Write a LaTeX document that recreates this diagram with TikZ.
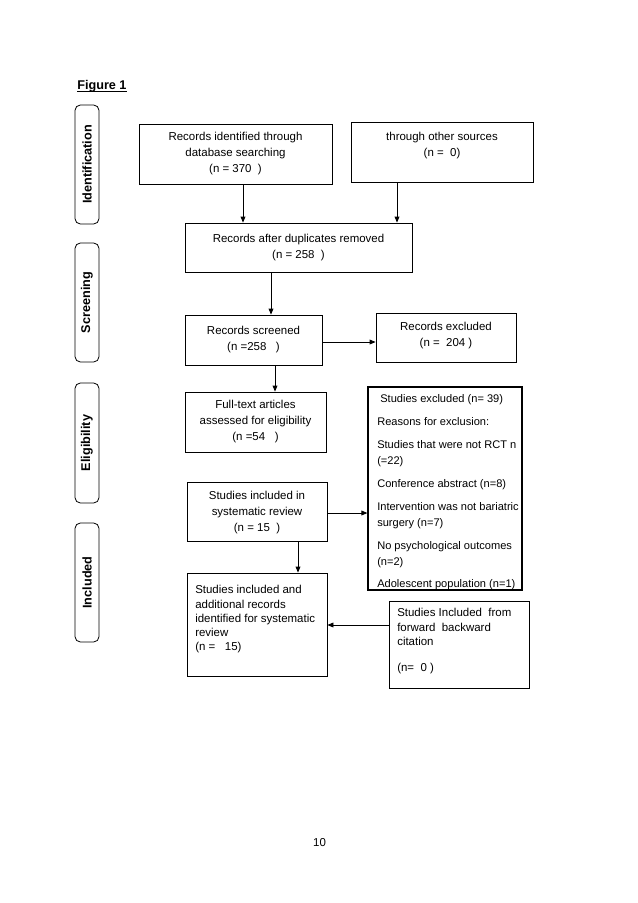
\documentclass[tikz,border=0pt]{standalone}
\usepackage{fontspec}
\setmainfont{Liberation Sans}
\usetikzlibrary{arrows.meta,fit}
\newcommand\bodyfont{\fontsize{8.6}{12}\selectfont}
\newcommand\smallbodyfont{\fontsize{8.3}{12}\selectfont}
\newcommand\sidefont{\fontsize{9.5}{11}\selectfont\bfseries}
\begin{document}
\begin{tikzpicture}[x=0.75pt,y=-0.75pt,
  box/.style={draw, line width=0.6pt, inner sep=0pt, align=center, font=\bodyfont},
  plain/.style={inner sep=0pt, align=center, font=\bodyfont},
  thickbox/.style={draw, line width=0.9pt, inner sep=0pt},
  txt/.style={inner sep=0pt, font=\bodyfont, anchor=base west},
  side/.style={draw, rounded corners=4pt, line width=0.6pt, inner sep=0pt},
  sidetxt/.style={font=\sidefont, rotate=90, inner sep=0pt},
  arr/.style={-{Triangle[length=4.5pt,width=3.6pt]}, line width=0.6pt}]
\useasboundingbox[fill=white] (0,0) rectangle (638,903);

% title
\node[inner sep=0pt, anchor=base west, font=\fontsize{9.5}{11}\selectfont\bfseries] (fig) at (77,89) {Figure 1};
\draw[line width=0.8pt] ([yshift=-1.6pt]fig.base west) -- ([yshift=-1.6pt]fig.base east);

% side labels
\node[side, fit={(75,105) (99,224)}] (s1) {};
\node[sidetxt] (s1t) at (s1.center) {Identification};
\node[side, fit={(75,243) (99,362)}] (s2) {};
\node[sidetxt] (s2t) at (s2.center) {Screening};
\node[side, fit={(75,383) (99,503)}] (s3) {};
\node[sidetxt] (s3t) at (s3.center) {Eligibility};
\node[side, fit={(75,523) (99,642)}] (s4) {};
\node[sidetxt] (s4t) at (s4.center) {Included};

% boxes
\node[box, fit={(139,124) (332,184)}] (b1) {};
\node[plain] (b1t) at (235.5,154) {Records identified through\\database searching\\(n = 370~~)};
\node[box, fit={(351,122) (533,182)}] (b2) {};
\node[plain] (b2t) at (442,146) {through other sources\\(n = ~0)};
\node[box, fit={(185,223) (412,272)}] (b3) {};
\node[plain] (b3t) at (298.5,247.5) {Records after duplicates removed\\(n = 258~~)};
\node[box, fit={(185,315) (322,365)}] (b4) {};
\node[plain] (b4t) at (253.5,340) {Records screened\\(n =258~~~)};
\node[box, fit={(376,313) (516,362)}] (b5) {};
\node[plain] (b5t) at (446,336) {Records excluded\\(n = ~204 )};
\node[box, fit={(185,392) (326,452)}] (b6) {};
\node[plain] (b6t) at (255.5,422) {Full-text articles\\assessed for eligibility\\(n =54~~~)};
\node[box, fit={(187,482) (327,541)}] (b7) {};
\node[plain] (b7t) at (257,513) {Studies included in\\systematic review\\(n = 15~~)};

\node[thickbox, fit={(368,387) (522,590)}] (b8) {};
\foreach \i/\y/\t in {1/402/{~Studies excluded (n= 39)},
                      2/425/{Reasons for exclusion:},
                      3/448/{Studies that were not RCT n},
                      4/464/{(=22)},
                      5/487/{Conference abstract (n=8)},
                      6/510/{Intervention was not bariatric},
                      7/526/{surgery~(n=7)},
                      8/549/{No psychological outcomes},
                      9/565/{(n=2)},
                      10/587/{Adolescent population (n=1)}}
  \node[txt, font=\smallbodyfont] (e\i) at (377,\y) {\t};

\node[box, fit={(187,573) (327,676)}] (b9) {};
\foreach \i/\y/\t in {1/593/{Studies included and},
                      2/608/{additional records},
                      3/622/{identified for systematic},
                      4/636/{review},
                      5/650/{(n = ~~15)}}
  \node[txt] (f\i) at (195,\y) {\t};

\node[box, fit={(389,601) (529,688)}] (b10) {};
\foreach \i/\y/\t in {1/616/{Studies Included~ from},
                      2/631/{forward~ backward},
                      3/645/{citation},
                      4/671/{(n=~ 0 )}}
  \node[txt] (g\i) at (397,\y) {\t};

% page number
\node[font=\bodyfont, inner sep=0pt] (pg) at (319.5,842.5) {10};

% connectors
\draw[arr] (243,0 |- b1.south) -- (243,0 |- b3.north);
\draw[arr] (397,0 |- b2.south) -- (397,0 |- b3.north);
\draw[arr] (271,0 |- b3.south) -- (271,0 |- b4.north);
\draw[arr] (b4.east |- 0,342) -- (b5.west |- 0,342);
\draw[arr] (275,0 |- b4.south) -- (275,0 |- b6.north);
\draw[arr] (b7.east |- 0,513) -- (b8.west |- 0,513);
\draw[arr] (298,0 |- b7.south) -- (298,0 |- b9.north);
\draw[arr] (b10.west |- 0,625) -- (b9.east |- 0,625);
\end{tikzpicture}
\end{document}
